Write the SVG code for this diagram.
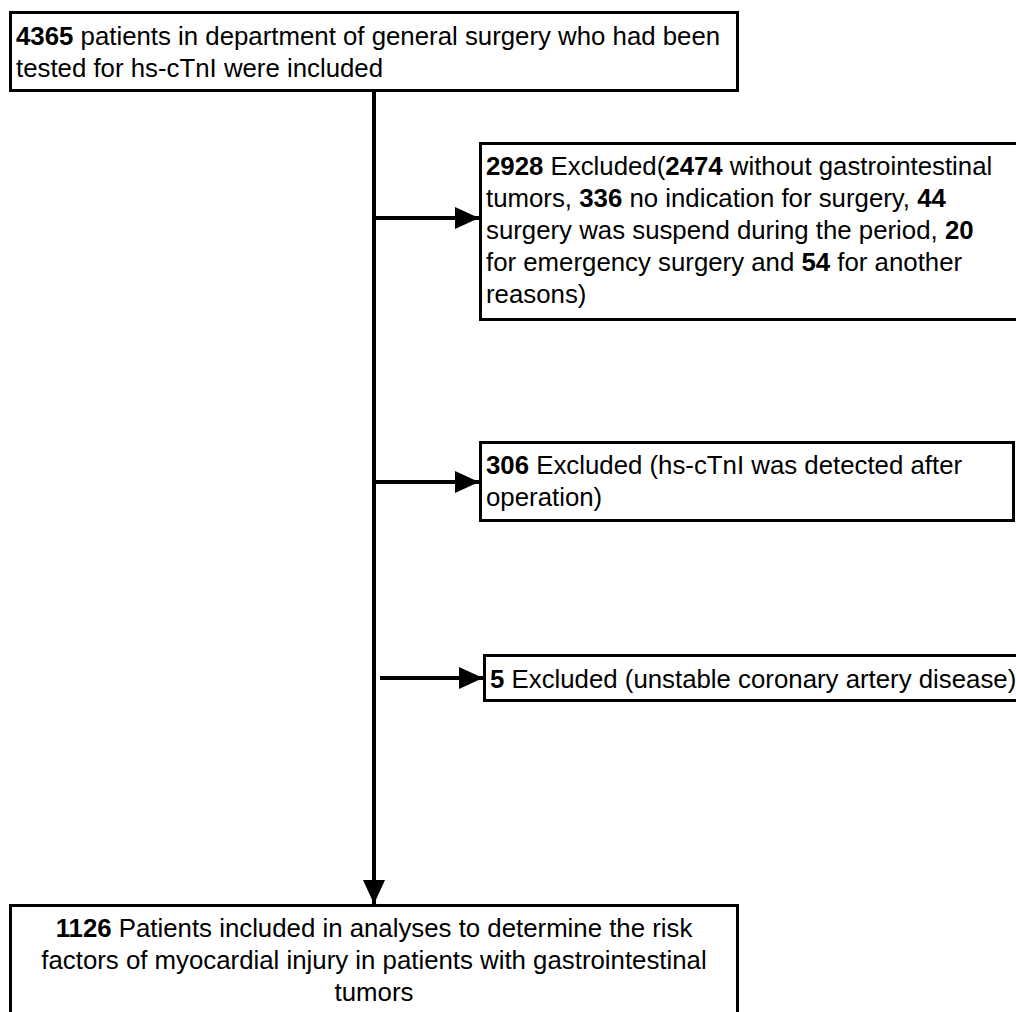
<svg xmlns="http://www.w3.org/2000/svg" width="1016" height="1012" viewBox="0 0 1016 1012">
<defs>
<style>
.box{fill:#fff;stroke:#000;stroke-width:3}
.t{font-family:"Liberation Sans",Arial,sans-serif;font-size:25.8px;fill:#000}
.b{font-weight:bold}
.c{stroke:#000;stroke-width:4;fill:none}
</style>
<marker id="ah" viewBox="0 0 10 10" refX="10" refY="5" markerWidth="6" markerHeight="5.5" markerUnits="strokeWidth" orient="auto" preserveAspectRatio="none">
<path d="M0,0 L10,5 L0,10 Z" fill="#000"/>
</marker>
</defs>
<rect width="1016" height="1012" fill="#fff"/>
<g id="connectors">
<line class="c" x1="374" y1="90" x2="374" y2="904" marker-end="url(#ah)"/>
<line class="c" x1="374" y1="218" x2="479" y2="218" marker-end="url(#ah)"/>
<line class="c" x1="374" y1="482" x2="479" y2="482" marker-end="url(#ah)"/>
<line class="c" x1="380" y1="678" x2="483" y2="678" marker-end="url(#ah)"/>
</g>
<g id="n1">
<rect class="box" x="10.5" y="12.5" width="727" height="78"/>
<text class="t" x="16" y="45"><tspan class="b">4365</tspan> patients in department of general surgery who had been</text>
<text class="t" x="16" y="77">tested for hs-cTnI were included</text>
</g>
<g id="n2">
<rect class="box" x="480.5" y="143.5" width="540" height="176"/>
<text class="t" x="486" y="175"><tspan class="b">2928</tspan> Excluded(<tspan class="b">2474</tspan> without gastrointestinal</text>
<text class="t" x="486" y="207">tumors, <tspan class="b">336</tspan> no indication for surgery, <tspan class="b">44</tspan></text>
<text class="t" x="486" y="239">surgery was suspend during the period, <tspan class="b">20</tspan></text>
<text class="t" x="486" y="271">for emergency surgery and <tspan class="b">54</tspan> for another</text>
<text class="t" x="486" y="303">reasons)</text>
</g>
<g id="n3">
<rect class="box" x="480.5" y="442.5" width="533" height="78"/>
<text class="t" x="486" y="474"><tspan class="b">306</tspan> Excluded (hs-cTnI was detected after</text>
<text class="t" x="486" y="506">operation)</text>
</g>
<g id="n4">
<rect class="box" x="484.5" y="655.5" width="540" height="45"/>
<text class="t" x="490" y="688"><tspan class="b">5</tspan> Excluded (unstable coronary artery disease)</text>
</g>
<g id="n5">
<rect class="box" x="10.5" y="905.5" width="727" height="115"/>
<text class="t" x="374" y="937" text-anchor="middle"><tspan class="b">1126</tspan> Patients included in analyses to determine the risk</text>
<text class="t" x="374" y="969" text-anchor="middle">factors of myocardial injury in patients with gastrointestinal</text>
<text class="t" x="374" y="1001" text-anchor="middle">tumors</text>
</g>
</svg>
